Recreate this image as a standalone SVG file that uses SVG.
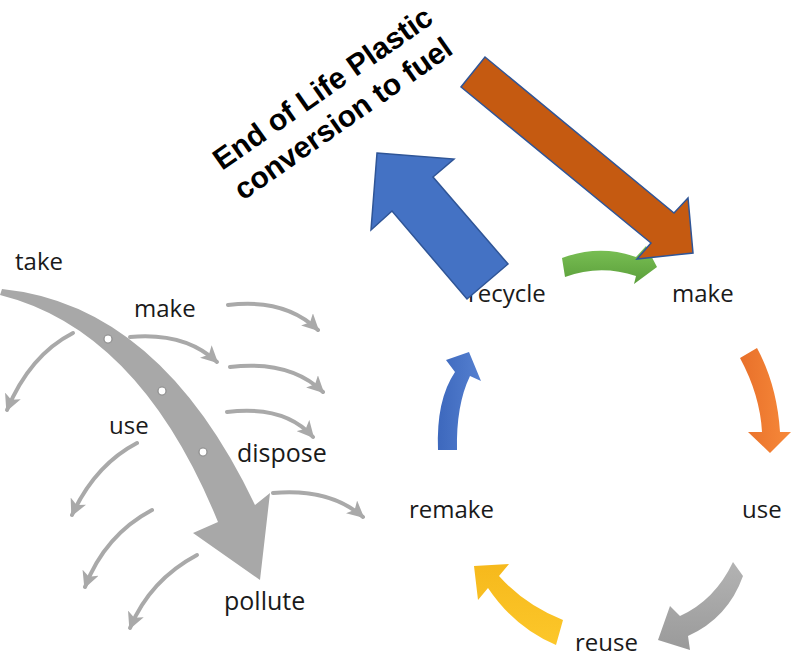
<svg xmlns="http://www.w3.org/2000/svg" width="793" height="661" viewBox="0 0 793 661">
<style>
.lbl{font-family:"Open Sans","Noto Sans",sans-serif;font-size:24px;fill:#1a1a1a}
.thin{fill:none;stroke:#a9a9a9;stroke-width:4;stroke-linecap:round;marker-end:url(#gh)}
.title{font-family:"Liberation Sans",Arial,sans-serif;font-weight:bold;font-size:30px;fill:#000}
.block{stroke:#2f5597;stroke-width:1.5;stroke-linejoin:miter}
.dot{fill:#fff;stroke:#8c8c8c;stroke-width:1.2}
</style>
<defs>
<marker id="gh" viewBox="0 0 10 10" refX="9" refY="5" markerWidth="17" markerHeight="17" markerUnits="userSpaceOnUse" orient="auto">
<path d="M0,0 L10,5 L0,10 L2.5,5 z" fill="#a9a9a9"/>
</marker>
<linearGradient id="gGreen" x1="0" y1="0" x2="0" y2="1"><stop offset="0" stop-color="#7cc256"/><stop offset="1" stop-color="#5a9e3a"/></linearGradient>
<linearGradient id="gOrange" x1="0" y1="0" x2="1" y2="0"><stop offset="0" stop-color="#e8702a"/><stop offset="1" stop-color="#f7893a"/></linearGradient>
<linearGradient id="gGrey" x1="0" y1="0" x2="0" y2="1"><stop offset="0" stop-color="#b3b3b3"/><stop offset="1" stop-color="#9a9a9a"/></linearGradient>
<linearGradient id="gYellow" x1="0" y1="0" x2="0" y2="1"><stop offset="0" stop-color="#f6b91c"/><stop offset="1" stop-color="#fcc72a"/></linearGradient>
<linearGradient id="gBlue" x1="0" y1="0" x2="1" y2="0"><stop offset="0" stop-color="#3d68bd"/><stop offset="1" stop-color="#5580d0"/></linearGradient>
</defs>
<rect width="793" height="661" fill="#fff"/>

<g id="connectors">
<!-- linear economy thin arrows -->
<path class="thin" d="M228,305 Q285,298 318,330"/>
<path class="thin" d="M130,337 Q185,332 217,362"/>
<path class="thin" d="M230,367 Q290,360 323,392"/>
<path class="thin" d="M227,412 Q285,405 313,437"/>
<path class="thin" d="M273,493 Q330,488 363,517"/>
<path class="thin" d="M73,333 Q30,355 7,410"/>
<path class="thin" d="M137,443 Q95,465 72,515"/>
<path class="thin" d="M152,510 Q105,535 85,587"/>
<path class="thin" d="M197,555 Q150,580 130,628"/>
<!-- big linear arrow -->
<path d="M2,289 Q160,305 255,505 L270,493 L260,580 L193,533 L218,522 Q140,330 0,295 Z" fill="#a8a8a8"/>
<circle class="dot" cx="108" cy="339" r="4"/>
<circle class="dot" cx="162" cy="391" r="4"/>
<circle class="dot" cx="203" cy="452" r="4"/>
<!-- circular economy arrows -->
<path d="M562,258 Q600,244 636,257 L646,246 L657,267 L634,284 L636,276 Q600,264 565,277 Z" fill="url(#gGreen)"/>
<path d="M740,358 L757,348 Q777,385 780,432 L791,432 L770,453 L748,432 L762,432 Q760,395 740,358 Z" fill="url(#gOrange)"/>
<path d="M733,562 L743,576 Q728,618 688,636 L690,650 L658,640 L670,606 L680,616 Q715,600 733,562 Z" fill="url(#gGrey)"/>
<path d="M563,620 L556,645 Q515,628 488,588 L478,600 L474,566 L509,564 L499,576 Q525,605 563,620 Z" fill="url(#gYellow)"/>
<path d="M438,450 Q436,400 455,372 L446,360 L469,352 L481,381 L470,376 Q456,405 457,450 Z" fill="url(#gBlue)"/>
</g>

<g id="take"><text class="lbl" x="15" y="270">take</text></g>
<g id="make-linear"><text class="lbl" x="134" y="317">make</text></g>
<g id="use-linear"><text class="lbl" x="109" y="434">use</text></g>
<g id="dispose"><text class="lbl" x="237" y="462" style="font-size:25px">dispose</text></g>
<g id="pollute"><text class="lbl" x="224" y="610" style="font-size:25px">pollute</text></g>

<g id="recycle"><text class="lbl" x="468" y="302">recycle</text></g>
<g id="make"><text class="lbl" x="672" y="302">make</text></g>
<g id="use"><text class="lbl" x="742" y="518">use</text></g>
<g id="remake"><text class="lbl" x="409" y="518">remake</text></g>
<g id="reuse"><text class="lbl" x="575" y="651">reuse</text></g>

<g id="orange-arrow">
<path class="block" d="M485,57 L674,213 L688,198 L693,253 L637,259 L651,243 L461,87 Z" fill="#c55a11"/>
</g>
<g id="blue-arrow">
<path class="block" d="M377,153 L454,159 L433,177 L508,264 L467,299 L392,211 L371,230 Z" fill="#4472c4"/>
</g>

<g id="title">
<text class="title" x="222" y="171" transform="rotate(-35 222 171)">End of Life Plastic</text>
<text class="title" x="243" y="201" transform="rotate(-35 243 201)">conversion to fuel</text>
</g>
</svg>
